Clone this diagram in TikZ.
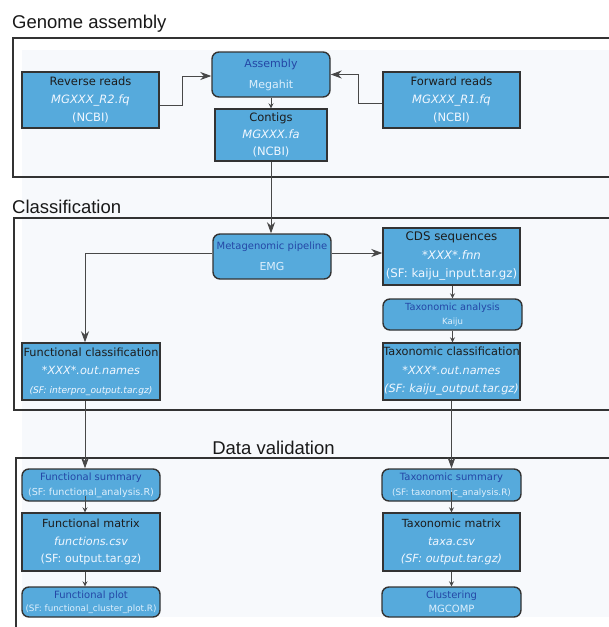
\documentclass[tikz,border=0pt]{standalone}
\usepackage{fontspec}
\setmainfont{DejaVu Sans}
\newfontfamily\titlefont{Liberation Sans}
\usetikzlibrary{arrows.meta,calc}
\definecolor{boxblue}{HTML}{56AADC}
\definecolor{tdark}{HTML}{1C1C1C}
\definecolor{tlight}{HTML}{F0F7FF}
\definecolor{tnavy}{HTML}{2447A6}
\definecolor{tpale}{HTML}{DDEFFC}
\definecolor{framecol}{HTML}{333333}
\definecolor{panel}{HTML}{F7F9FC}
\definecolor{linecol}{HTML}{484848}
\tikzset{
  databox/.style={draw=framecol, line width=1.4pt, fill=boxblue, inner sep=0pt,
    align=center, text=tlight, font=\fontsize{11.5}{18}\selectfont},
  procbox/.style={databox, rounded corners=7pt},
  sectitle/.style={font=\titlefont\fontsize{18.5}{20}\selectfont, text=black!90, inner sep=0pt},
  frame/.style={draw=framecol, line width=1.4pt},
  bigarr/.style={draw=linecol, line width=0.9pt, -{Stealth[length=11pt,width=8pt,inset=3.5pt]}},
  smallarr/.style={draw=linecol, line width=0.9pt, -{Stealth[length=5pt,width=5pt,inset=1.8pt]}},
  conn/.style={draw=linecol, line width=0.9pt}
}
\begin{document}
\begin{tikzpicture}[x=1pt,y=-1pt]
\useasboundingbox (0,0) rectangle (609,627);
\clip (0,0) rectangle (609,627);
\fill[white] (0,0) rectangle (609,627);
\fill[panel] (22,50) rectangle (609,617);

% frames
\draw[frame] (13,38) rectangle (640,177);
\draw[frame] (14,218) rectangle (640,410);
\draw[frame] (16,660) -- (16,458) -- (640,458);

% titles
\node[sectitle, anchor=base west] (t1) at (12,28) {Genome assembly};
\node[sectitle, anchor=base west] (t2) at (12,213) {Classification};
\node[sectitle, anchor=base] (t3) at (273.5,454) {Data validation};

\coordinate (colL) at (85,0);

% Genome assembly
\node[databox, minimum width=137pt, minimum height=56pt] (rev) at (90.5,100)
  {{\color{tdark}Reverse reads}\\{\itshape MGXXX\_R2.fq}\\(NCBI)};
\node[procbox, minimum width=118pt, minimum height=45pt, font=\fontsize{11}{21}\selectfont] (asm) at (271,74.5)
  {{\color{tnavy}Assembly}\\{\color{tpale}Megahit}};
\node[databox, minimum width=112pt, minimum height=52pt, font=\fontsize{11.5}{17}\selectfont] (contigs) at (271,135)
  {{\color{tdark}Contigs}\\{\itshape MGXXX.fa}\\(NCBI)};
\node[databox, minimum width=137pt, minimum height=56pt] (fwd) at (451.5,100)
  {{\color{tdark}Forward reads}\\{\itshape MGXXX\_R1.fq}\\(NCBI)};

% Classification
\node[procbox, minimum width=118pt, minimum height=45pt, font=\fontsize{11}{21}\selectfont] (meta) at (272,256.5)
  {{\color{tnavy}\fontsize{10}{12}\selectfont Metagenomic pipeline}\\{\color{tpale}EMG}};
\node[databox, minimum width=137pt, minimum height=57pt, font=\fontsize{11.8}{18.5}\selectfont] (cds) at (451.5,256.5)
  {{\color{tdark}CDS sequences}\\{\itshape *XXX*.fnn}\\(SF: kaiju\_input.tar.gz)};
\node[procbox, minimum width=139pt, minimum height=31pt, font=\fontsize{9.8}{13.5}\selectfont] (taxan) at (452.5,314.5)
  {{\color{tnavy}Taxonomic analysis}\\{\color{tpale}\fontsize{8.6}{10}\selectfont Kaiju}};
\node[databox, minimum width=137pt, minimum height=57pt, font=\fontsize{11.3}{18.5}\selectfont] (taxcl) at (451.5,371.5)
  {{\color{tdark}Taxonomic classification}\\{\itshape *XXX*.out.names}\\{\itshape (SF: kaiju\_output.tar.gz)}};
\node[databox, minimum width=138pt, minimum height=57pt, font=\fontsize{11.3}{18.5}\selectfont] (funcl) at (91,371.5)
  {{\color{tdark}Functional classification}\\{\itshape *XXX*.out.names}\\{\itshape\fontsize{9.1}{11}\selectfont (SF: interpro\_output.tar.gz)}};

% Data validation
\node[procbox, minimum width=138pt, minimum height=32pt, font=\fontsize{10}{15}\selectfont] (funsum) at (91,485)
  {{\color{tnavy}Functional summary}\\{\color{tpale}\fontsize{9.6}{11}\selectfont (SF: functional\_analysis.R)}};
\node[databox, minimum width=138pt, minimum height=58pt, font=\fontsize{11.2}{17.5}\selectfont] (funmat) at (91,542)
  {{\color{tdark}Functional matrix}\\{\itshape functions.csv}\\(SF: output.tar.gz)};
\node[procbox, minimum width=138pt, minimum height=30pt, font=\fontsize{10}{13.5}\selectfont] (funplot) at (91,602)
  {{\color{tnavy}Functional plot}\\{\color{tpale}\fontsize{8.8}{10}\selectfont (SF: functional\_cluster\_plot.R)}};
\node[procbox, minimum width=139pt, minimum height=32pt, font=\fontsize{10}{15}\selectfont] (taxsum) at (451.5,485)
  {{\color{tnavy}Taxonomic summary}\\{\color{tpale}\fontsize{8.9}{11}\selectfont (SF: taxonomic\_analysis.R)}};
\node[databox, minimum width=137pt, minimum height=58pt, font=\fontsize{11.2}{17.5}\selectfont] (taxmat) at (451.5,542)
  {{\color{tdark}Taxonomic matrix}\\{\itshape taxa.csv}\\{\itshape (SF: output.tar.gz)}};
\node[procbox, minimum width=139pt, minimum height=30pt, font=\fontsize{10}{14}\selectfont] (clus) at (451.5,602)
  {{\color{tnavy}Clustering}\\{\color{tpale}MGCOMP}};

% connectors
\draw[bigarr] ([yshift=-5pt]rev.east) -- ++(23,0) |- ([yshift=-1.5pt]asm.west);
\draw[bigarr] ([yshift=-3pt]fwd.west) -- ++(-24,0) |- (asm.east);
\draw[smallarr] (asm.south) -- (contigs.north);
\draw[bigarr] (contigs.south) -- (meta.north -| contigs.south);
\draw[bigarr] ([yshift=3.5pt]meta.west) -| (funcl.north -| colL);
\draw[bigarr] ([yshift=3.5pt]meta.east) -- ([yshift=3.5pt]meta.east -| cds.west);
\draw[smallarr] (cds.south -| taxan.north) -- (taxan.north);
\draw[smallarr] (taxan.south) -- (taxan.south |- taxcl.north);
\draw[bigarr] (funcl.south -| colL) -- (funsum.north -| colL);
\draw[bigarr] (taxcl.south) -- (taxcl.south |- taxsum.north);
\draw[smallarr] ([yshift=6pt]funsum.south -| colL) -- (funmat.north -| colL);
\draw[smallarr] (funmat.south -| colL) -- (funplot.north -| colL);
\draw[smallarr] ([yshift=10pt]taxsum.south) -- (taxsum.south |- taxmat.north);
\draw[smallarr] (taxmat.south) -- (taxmat.south |- clus.north);
\end{tikzpicture}
\end{document}
